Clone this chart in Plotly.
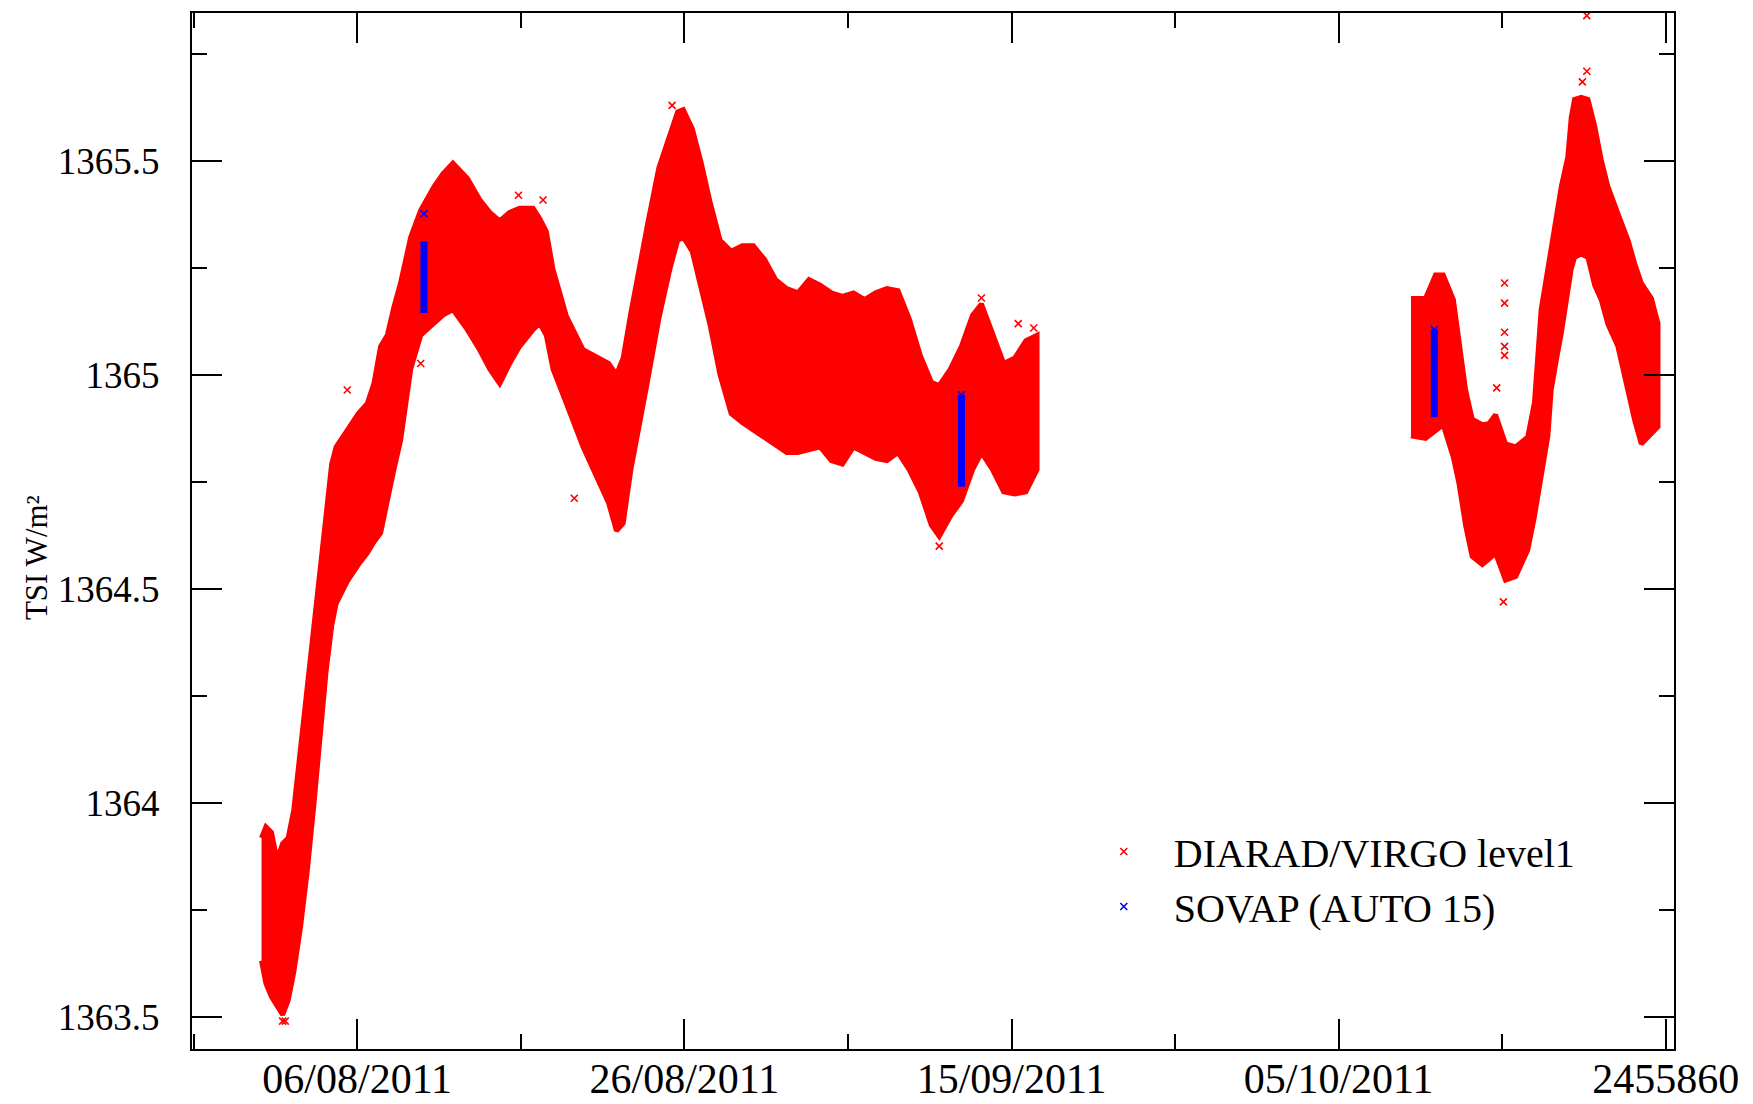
import plotly.graph_objects as go

# ---------------- data (JD, TSI W/m^2) ----------------
# DIARAD/VIRGO level1 band, first block: upper / lower envelopes
seg1_jd = [2455774.15, 2455774.42, 2455774.76, 2455775.10, 2455775.44, 2455775.78,
           2455776.12, 2455776.53, 2455776.94, 2455777.35, 2455777.76, 2455778.10,
           2455778.44, 2455778.71, 2455779.39, 2455780.07, 2455780.61, 2455781.02,
           2455781.43, 2455781.84, 2455782.24, 2455782.65, 2455783.27, 2455783.88,
           2455784.69, 2455785.24, 2455785.85, 2455786.73, 2455787.48, 2455788.10,
           2455788.71, 2455789.32, 2455789.93, 2455790.75, 2455791.16, 2455791.56,
           2455791.97, 2455792.79, 2455793.81, 2455794.83, 2455795.37, 2455795.85,
           2455796.26, 2455796.73, 2455797.21, 2455797.76, 2455798.44, 2455799.12,
           2455799.59, 2455799.93, 2455800.48, 2455801.02, 2455801.56, 2455802.18,
           2455802.86, 2455803.54, 2455804.22, 2455804.90, 2455805.58, 2455806.26,
           2455806.94, 2455807.62, 2455808.30, 2455808.98, 2455809.66, 2455810.34,
           2455811.02, 2455811.70, 2455812.38, 2455813.06, 2455813.74, 2455814.42,
           2455815.10, 2455815.58, 2455816.26, 2455816.94, 2455817.62, 2455818.16,
           2455818.84, 2455819.52, 2455820.20, 2455820.88, 2455821.56]
seg1_upper = [1363.918, 1363.944, 1363.931, 1363.866, 1363.905, 1363.918,
              1363.983, 1364.127, 1364.283, 1364.414, 1364.570, 1364.688,
              1364.792, 1364.832, 1364.871, 1364.910, 1364.933, 1364.980,
              1365.067, 1365.093, 1365.158, 1365.215, 1365.322, 1365.385,
              1365.440, 1365.470, 1365.495, 1365.460, 1365.410, 1365.380,
              1365.360, 1365.380, 1365.390, 1365.390, 1365.365, 1365.335,
              1365.247, 1365.137, 1365.059, 1365.040, 1365.027, 1365.001,
              1365.040, 1365.145, 1365.249, 1365.354, 1365.484, 1365.563,
              1365.615, 1365.620, 1365.576, 1365.497, 1365.406, 1365.315,
              1365.289, 1365.302, 1365.302, 1365.270, 1365.223, 1365.202,
              1365.192, 1365.223, 1365.210, 1365.192, 1365.184, 1365.192,
              1365.176, 1365.192, 1365.202, 1365.197, 1365.132, 1365.046,
              1364.983, 1364.975, 1365.014, 1365.067, 1365.140, 1365.166,
              1365.093, 1365.027, 1365.040, 1365.080, 1365.093]
seg1_lower = [1363.631, 1363.578, 1363.547, 1363.526, 1363.505, 1363.539,
              1363.604, 1363.709, 1363.839, 1363.996, 1364.153, 1364.309,
              1364.414, 1364.466, 1364.518, 1364.557, 1364.584, 1364.610,
              1364.631, 1364.701, 1364.779, 1364.847, 1365.014, 1365.093,
              1365.121, 1365.140, 1365.153, 1365.106, 1365.059, 1365.014,
              1364.980, 1365.027, 1365.067, 1365.106, 1365.121, 1365.093,
              1365.014, 1364.933, 1364.832, 1364.748, 1364.701, 1364.636,
              1364.654, 1364.779, 1364.884, 1364.988, 1365.132, 1365.249,
              1365.315, 1365.322, 1365.289, 1365.210, 1365.119, 1365.001,
              1364.910, 1364.889, 1364.871, 1364.852, 1364.837, 1364.819,
              1364.819, 1364.826, 1364.832, 1364.800, 1364.792, 1364.832,
              1364.819, 1364.805, 1364.800, 1364.819, 1364.779, 1364.727,
              1364.649, 1364.623, 1364.670, 1364.706, 1364.779, 1364.819,
              1364.779, 1364.727, 1364.722, 1364.727, 1364.779]

# second block (October)
seg2_jd = [2455844.42, 2455845.31, 2455845.92, 2455846.39, 2455847.01, 2455847.35,
           2455847.76, 2455848.16, 2455848.78, 2455849.18, 2455849.59, 2455850.20,
           2455850.82, 2455851.56, 2455851.97, 2455852.38, 2455852.79, 2455852.99,
           2455853.33, 2455853.61, 2455854.01, 2455854.22, 2455854.42, 2455854.83,
           2455855.24, 2455855.65, 2455856.05, 2455856.46, 2455857.07, 2455857.69,
           2455858.10, 2455858.50, 2455859.12, 2455859.52]
seg2_upper = [1365.179, 1365.179, 1365.234, 1365.234, 1365.176, 1365.074,
              1364.965, 1364.897, 1364.884, 1364.886, 1364.907, 1364.839,
              1364.832, 1364.855, 1364.936, 1365.153, 1365.252, 1365.302,
              1365.367, 1365.440, 1365.510, 1365.602, 1365.644, 1365.649,
              1365.644, 1365.581, 1365.503, 1365.440, 1365.377, 1365.315,
              1365.260, 1365.215, 1365.179, 1365.121]
seg2_lower = [1364.858, 1364.852, 1364.871, 1364.884, 1364.808, 1364.748,
              1364.649, 1364.576, 1364.557, 1364.570, 1364.584, 1364.521,
              1364.529, 1364.591, 1364.670, 1364.761, 1364.858, 1364.965,
              1365.040, 1365.098, 1365.192, 1365.249, 1365.275, 1365.283,
              1365.275, 1365.210, 1365.176, 1365.119, 1365.067, 1364.965,
              1364.894, 1364.839, 1364.863, 1364.879]

# isolated DIARAD points
red_pts_jd = [2455775.44, 2455775.60, 2455779.39, 2455783.88, 2455789.86, 2455791.36,
              2455793.27, 2455799.25, 2455815.58, 2455818.16, 2455820.41, 2455821.36,
              2455849.66, 2455850.07, 2455850.14, 2455850.14, 2455850.14, 2455850.14,
              2455850.14, 2455855.17, 2455855.17, 2455854.90]
red_pts_tsi = [1363.490, 1363.490, 1364.965, 1365.027, 1365.420, 1365.409,
               1364.712, 1365.630, 1364.600, 1365.180, 1365.120, 1365.110,
               1364.970, 1364.470, 1365.215, 1365.168, 1365.100, 1365.067,
               1365.046, 1365.840, 1365.710, 1365.685]

# SOVAP (AUTO 15) columns: JD, min, max
sovap_jd = [2455784.08, 2455816.94, 2455845.85]
sovap_min = [1365.145, 1364.739, 1364.902]
sovap_max = [1365.312, 1364.954, 1365.106]
sovap_pts_jd = [2455784.08, 2455816.94, 2455845.85, 2455845.85]
sovap_pts_tsi = [1365.377, 1364.954, 1365.106, 1365.060]

# axis ticks
x_tickvals = [2455780, 2455800, 2455820, 2455840, 2455860]
x_ticktext = ["06/08/2011", "26/08/2011", "15/09/2011", "05/10/2011", "2455860"]
y_tickvals = [1363.5, 1364, 1364.5, 1365, 1365.5]
y_ticktext = ["1363.5", "1364", "1364.5", "1365", "1365.5"]

RED = "#ff0000"
BLUE = "#0000ff"
FONT = "Liberation Serif"

fig = go.Figure()

for jd, up, lo in [(seg1_jd, seg1_upper, seg1_lower), (seg2_jd, seg2_upper, seg2_lower)]:
    fig.add_trace(go.Scatter(
        x=list(jd) + list(jd)[::-1],
        y=list(up) + list(lo)[::-1],
        mode="lines", fill="toself", fillcolor=RED,
        line=dict(color=RED, width=5), showlegend=False, hoverinfo="skip"))

fig.add_trace(go.Scatter(
    x=red_pts_jd, y=red_pts_tsi, mode="markers", name="DIARAD/VIRGO level1",
    marker=dict(symbol="x-thin", size=7, line=dict(color=RED, width=1.6), color=RED)))

for jd, lo, hi in zip(sovap_jd, sovap_min, sovap_max):
    fig.add_trace(go.Scatter(
        x=[jd, jd], y=[lo, hi], mode="lines",
        line=dict(color=BLUE, width=7), showlegend=False, hoverinfo="skip"))

fig.add_trace(go.Scatter(
    x=sovap_pts_jd, y=sovap_pts_tsi, mode="markers", name="SOVAP (AUTO 15)",
    marker=dict(symbol="x-thin", size=7, line=dict(color=BLUE, width=1.6), color=BLUE)))

axis_common = dict(
    showline=True, linecolor="black", linewidth=2, mirror="ticks",
    ticks="inside", ticklen=30, tickwidth=2, tickcolor="black",
    showgrid=False, zeroline=False, automargin=False,
)

fig.update_xaxes(
    range=[2455769.9, 2455860.5], tickmode="array",
    tickvals=x_tickvals, ticktext=x_ticktext,
    tickfont=dict(family=FONT, size=42, color="black"),
    minor=dict(ticks="inside", ticklen=15, tickwidth=2, tickcolor="black", dtick=10,
               tick0=2455780, showgrid=False),
    ticklabelstandoff=-8,
    **axis_common)
fig.update_yaxes(
    range=[1363.425, 1365.846], tickmode="array",
    tickvals=y_tickvals, ticktext=y_ticktext,
    tickfont=dict(family=FONT, size=37, color="black"),
    minor=dict(ticks="inside", ticklen=15, tickwidth=2, tickcolor="black", dtick=0.25,
               tick0=1363.5, showgrid=False),
    ticklabelstandoff=23,
    **axis_common)

fig.add_annotation(
    text="TSI W/m²", textangle=-90, xref="paper", yref="paper",
    x=-0.1045, y=0.474, xanchor="center", yanchor="middle", showarrow=False,
    font=dict(family=FONT, size=31, color="black"))

# the page body adds an 8 px offset, so the figure is sized to end at the window edge
fig.update_layout(
    width=1745, height=1096,
    margin=dict(l=184, r=79, t=5, b=55, autoexpand=False),
    paper_bgcolor="white", plot_bgcolor="white",
    legend=dict(x=0.595, y=0.222, xanchor="left", yanchor="top",
                font=dict(family=FONT, size=40, color="black"),
                bgcolor="rgba(0,0,0,0)", borderwidth=0, itemwidth=90),
)

fig.write_html("out.html")
